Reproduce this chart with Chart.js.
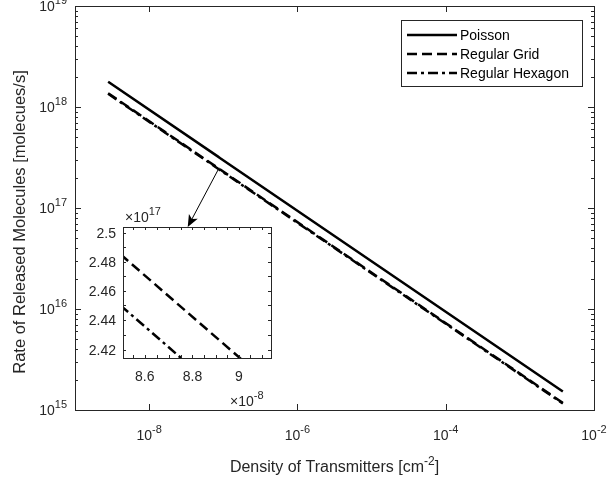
<!DOCTYPE html>
<html>
<head>
<meta charset="utf-8">
<script src="https://cdn.jsdelivr.net/npm/chart.js@4.4.1/dist/chart.umd.min.js"></script>
<style>
  html, body { margin: 0; padding: 0; background: #fff; }
  #wrap { position: relative; width: 608px; height: 480px; }
  #wrap canvas { position: absolute; left: 0; top: 0; }
</style>
</head>
<body>
<div id="wrap">
  <canvas id="main" width="608" height="480"></canvas>
  <canvas id="inset" width="608" height="480"></canvas>
</div>
<script>
// Transmitter density [cm^-2] and the release rate [molecules/s] for each deployment model
const density        = [2.8e-9, 8.5e-8, 9.0e-8, 3.8e-3];
const poisson        = [1.776e18, 3.224e17, 3.133e17, 1.525e15];
const regularGrid    = [1.369e18, 2.485e17, 2.415e17, 1.175e15];
const regularHexagon = [1.350e18, 2.450e17, 2.381e17, 1.159e15];
const seriesNames    = ['Poisson', 'Regular Grid', 'Regular Hexagon'];

// Tick labels of the main axes (powers of ten)
const yDecades = [15, 16, 17, 18, 19];
const xLabelDecades = [-8, -6, -4, -2];

// Zoomed view: tick labels in units of 1e-8 (x) and 1e17 (y)
const insetXTicks = [8.6, 8.8, 9];
const insetYTicks = [2.42, 2.44, 2.46, 2.48, 2.5];
const insetXRange = [8.51e-8, 9.14e-8];
const insetYRange = [2.4145e17, 2.504e17];

const FONT = '"Liberation Sans", Arial, Helvetica, sans-serif';
const INK = '#262626';
const dashes = [[], [10, 5], [10, 4, 3, 4]];

function makeSets() {
  const ys = [poisson, regularGrid, regularHexagon];
  return ys.map((arr, i) => ({
    label: seriesNames[i],
    data: density.map((d, k) => ({ x: d, y: arr[k] })),
    borderColor: '#000',
    borderWidth: 2.5,
    borderDash: dashes[i],
    pointRadius: 0,
    fill: false,
    tension: 0
  }));
}

// "10" (or "×10") followed by a raised exponent
function powLabel(ctx, lead, exp, x, baseline, align, size) {
  const expSize = Math.round(size * 0.78);
  ctx.font = size + 'px ' + FONT;
  const w1 = ctx.measureText(lead).width;
  ctx.font = expSize + 'px ' + FONT;
  const w2 = ctx.measureText(exp).width;
  const total = w1 + w2;
  const x0 = align === 'right' ? x - total : align === 'center' ? x - total / 2 : x;
  ctx.textAlign = 'left';
  ctx.textBaseline = 'alphabetic';
  ctx.fillStyle = INK;
  ctx.font = size + 'px ' + FONT;
  ctx.fillText(lead, x0, baseline);
  ctx.font = expSize + 'px ' + FONT;
  ctx.fillText(exp, x0 + w1, baseline - size * 0.5);
}

function hLine(ctx, x1, x2, y) {
  ctx.beginPath(); ctx.moveTo(x1, Math.round(y) + 0.5); ctx.lineTo(x2, Math.round(y) + 0.5); ctx.stroke();
}
function vLine(ctx, x, y1, y2) {
  ctx.beginPath(); ctx.moveTo(Math.round(x) + 0.5, y1); ctx.lineTo(Math.round(x) + 0.5, y2); ctx.stroke();
}

const mainFrame = {
  id: 'mainFrame',
  afterDatasetsDraw(chart) {
    const ctx = chart.ctx;
    const a = chart.chartArea;
    const xs = chart.scales.x, ys = chart.scales.y;
    ctx.save();
    ctx.strokeStyle = INK;
    ctx.lineWidth = 1;
    ctx.setLineDash([]);
    ctx.strokeRect(Math.round(a.left) + 0.5, Math.round(a.top) + 0.5,
                   Math.round(a.right - a.left), Math.round(a.bottom - a.top));

    // y ticks: decades and 2..9 minors, on both sides, pointing inward
    for (let d = yDecades[0]; d <= yDecades[yDecades.length - 1]; d++) {
      const yp = ys.getPixelForValue(Math.pow(10, d));
      hLine(ctx, a.left, a.left + 6, yp);
      hLine(ctx, a.right - 6, a.right, yp);
      if (d < yDecades[yDecades.length - 1]) {
        for (let m = 2; m <= 9; m++) {
          const ym = ys.getPixelForValue(m * Math.pow(10, d));
          hLine(ctx, a.left, a.left + 3, ym);
          hLine(ctx, a.right - 3, a.right, ym);
        }
      }
    }
    // x ticks at every second decade
    xLabelDecades.forEach(d => {
      const xp = xs.getPixelForValue(Math.pow(10, d));
      vLine(ctx, xp, a.bottom - 6, a.bottom);
      vLine(ctx, xp, a.top, a.top + 6);
    });

    // tick labels
    yDecades.forEach(d => {
      const yp = ys.getPixelForValue(Math.pow(10, d));
      powLabel(ctx, '10', String(d), a.left - 8, yp + 5, 'right', 14);
    });
    xLabelDecades.forEach(d => {
      const xp = xs.getPixelForValue(Math.pow(10, d));
      powLabel(ctx, '10', String(d), xp, a.bottom + 30, 'center', 14);
    });

    // axis titles
    ctx.fillStyle = INK;
    const tSize = 16;
    ctx.font = tSize + 'px ' + FONT;
    const t1 = 'Density of Transmitters [cm', t2 = '-2', t3 = ']';
    const w1 = ctx.measureText(t1).width;
    ctx.font = Math.round(tSize * 0.72) + 'px ' + FONT;
    const w2 = ctx.measureText(t2).width;
    ctx.font = tSize + 'px ' + FONT;
    const w3 = ctx.measureText(t3).width;
    let tx = (a.left + a.right) / 2 - (w1 + w2 + w3) / 2;
    const tb = 472;
    ctx.textAlign = 'left';
    ctx.fillText(t1, tx, tb);
    ctx.font = Math.round(tSize * 0.72) + 'px ' + FONT;
    ctx.fillText(t2, tx + w1, tb - tSize * 0.45);
    ctx.font = tSize + 'px ' + FONT;
    ctx.fillText(t3, tx + w1 + w2, tb);

    ctx.save();
    ctx.translate(25, 222);
    ctx.rotate(-Math.PI / 2);
    ctx.textAlign = 'center';
    ctx.font = '16.5px ' + FONT;
    ctx.fillText('Rate of Released Molecules [molecues/s]', 0, 0);
    ctx.restore();

    // legend
    const lx = 401, ly = 20, lw = 181, lh = 66;
    ctx.fillStyle = '#fff';
    ctx.fillRect(lx, ly, lw, lh);
    ctx.strokeStyle = INK;
    ctx.lineWidth = 1;
    ctx.strokeRect(lx + 0.5, ly + 0.5, lw, lh);
    chart.data.datasets.forEach((ds, i) => {
      const ry = 35 + i * 19;
      ctx.strokeStyle = ds.borderColor;
      ctx.lineWidth = ds.borderWidth;
      ctx.setLineDash(ds.borderDash);
      ctx.beginPath(); ctx.moveTo(407, ry); ctx.lineTo(457, ry); ctx.stroke();
      ctx.setLineDash([]);
      ctx.fillStyle = '#000';
      ctx.font = '14px ' + FONT;
      ctx.textAlign = 'left';
      ctx.fillText(ds.label, 460, ry + 5);
    });
    ctx.restore();
  }
};

const mainChart = new Chart(document.getElementById('main'), {
  type: 'line',
  data: { datasets: makeSets() },
  options: {
    responsive: false,
    animation: false,
    devicePixelRatio: 1,
    layout: { padding: { left: 75, top: 6, right: 14, bottom: 70 } },
    scales: {
      x: { type: 'logarithmic', min: 1e-9, max: 1e-2, display: false },
      y: { type: 'logarithmic', min: 1e15, max: 1e19, display: false }
    },
    plugins: { legend: { display: false }, tooltip: { enabled: false } }
  },
  plugins: [mainFrame]
});

const insetFrame = {
  id: 'insetFrame',
  beforeDatasetsDraw(chart) {
    const a = chart.chartArea, ctx = chart.ctx;
    ctx.save();
    ctx.fillStyle = '#fff';
    ctx.fillRect(a.left, a.top, a.right - a.left, a.bottom - a.top);
    ctx.restore();
  },
  afterDatasetsDraw(chart) {
    const ctx = chart.ctx;
    const a = chart.chartArea;
    const xs = chart.scales.x, ys = chart.scales.y;
    ctx.save();
    ctx.strokeStyle = INK;
    ctx.lineWidth = 1;
    ctx.setLineDash([]);
    ctx.strokeRect(Math.round(a.left) + 0.5, Math.round(a.top) + 0.5,
                   Math.round(a.right - a.left), Math.round(a.bottom - a.top));
    // inward ticks on all four sides
    for (let v = 2.42; v <= 2.5001; v += 0.01) {
      const yp = ys.getPixelForValue(v * 1e17);
      hLine(ctx, a.left, a.left + 3, yp);
      hLine(ctx, a.right - 3, a.right, yp);
    }
    for (let v = 8.55; v <= 9.1001; v += 0.05) {
      const xp = xs.getPixelForValue(v * 1e-8);
      vLine(ctx, xp, a.bottom - 3, a.bottom);
      vLine(ctx, xp, a.top, a.top + 3);
    }
    // tick labels
    ctx.fillStyle = INK;
    ctx.font = '14px ' + FONT;
    ctx.textAlign = 'right';
    insetYTicks.forEach(v => {
      const yp = ys.getPixelForValue(v * 1e17);
      ctx.fillText(String(v), a.left - 7, yp + 5);
    });
    ctx.textAlign = 'center';
    insetXTicks.forEach(v => {
      const xp = xs.getPixelForValue(v * 1e-8);
      ctx.fillText(String(v), xp, a.bottom + 23);
    });
    powLabel(ctx, '\u00d710', '17', a.left + 2, a.top - 5, 'left', 14);
    powLabel(ctx, '\u00d710', '-8', 230, 406, 'left', 14);

    // arrow from the zoomed region on the main axes down to the inset
    const mx = mainChart.scales.x, my = mainChart.scales.y;
    const sx = mx.getPixelForValue(8.8e-8), sy = my.getPixelForValue(2.5e17);
    const hx = xs.getPixelForValue(8.78e-8), hy = a.top;
    const dx = hx - sx, dy = hy - sy, len = Math.hypot(dx, dy);
    const ux = dx / len, uy = dy / len, nx = -uy, ny = ux;
    const L = 12, W = 5, notch = 3;
    const bx = hx - ux * L, by = hy - uy * L;
    const cx = hx - ux * (L - notch), cy = hy - uy * (L - notch);
    ctx.strokeStyle = '#000';
    ctx.fillStyle = '#000';
    ctx.lineWidth = 1;
    ctx.beginPath(); ctx.moveTo(sx, sy); ctx.lineTo(cx, cy); ctx.stroke();
    ctx.beginPath();
    ctx.moveTo(hx, hy);
    ctx.lineTo(bx + nx * W, by + ny * W);
    ctx.lineTo(cx, cy);
    ctx.lineTo(bx - nx * W, by - ny * W);
    ctx.closePath();
    ctx.fill();
    ctx.restore();
  }
};

new Chart(document.getElementById('inset'), {
  type: 'line',
  data: { datasets: makeSets() },
  options: {
    responsive: false,
    animation: false,
    devicePixelRatio: 1,
    layout: { padding: { left: 123, top: 227, right: 337, bottom: 122 } },
    scales: {
      x: { type: 'logarithmic', min: insetXRange[0], max: insetXRange[1], display: false },
      y: { type: 'logarithmic', min: insetYRange[0], max: insetYRange[1], display: false }
    },
    plugins: { legend: { display: false }, tooltip: { enabled: false } }
  },
  plugins: [insetFrame]
});
</script>
</body>
</html>
